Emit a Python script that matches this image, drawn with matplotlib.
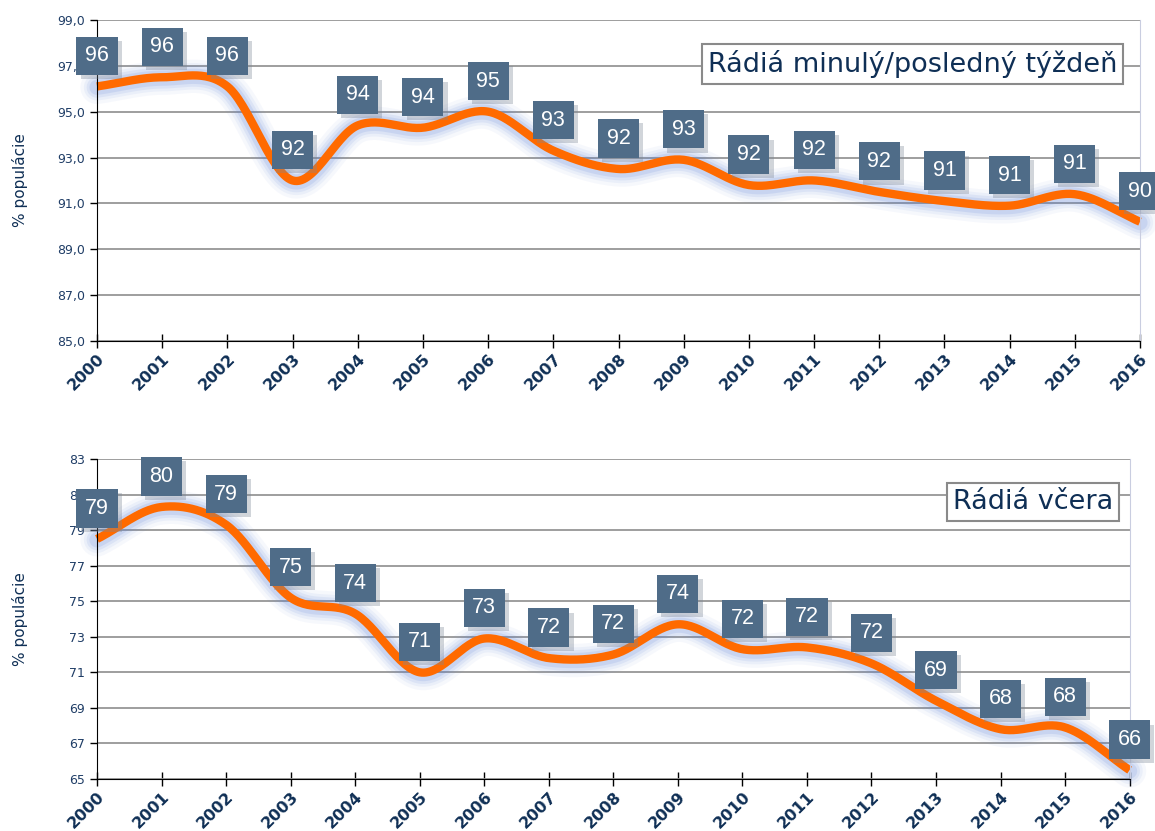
import numpy as np
import matplotlib
matplotlib.use("Agg")
import matplotlib.pyplot as plt
from matplotlib import patheffects

years = list(range(2000, 2017))
week_vals = [96.1, 96.5, 96.1, 92.0, 94.4, 94.3, 95.0, 93.3, 92.5, 92.9,
             91.8, 92.0, 91.5, 91.1, 90.9, 91.4, 90.2]
week_labels = [96, 96, 96, 92, 94, 94, 95, 93, 92, 93, 92, 92, 92, 91, 91, 91, 90]
day_vals = [78.5, 80.3, 79.3, 75.2, 74.3, 71.0, 72.9, 71.8, 72.0, 73.7,
            72.3, 72.4, 71.5, 69.4, 67.8, 67.9, 65.5]
day_labels = [79, 80, 79, 75, 74, 71, 73, 72, 72, 74, 72, 72, 72, 69, 68, 68, 66]

NAVY = "#0f2f55"
ORANGE = "#ff6a00"
BOX = "#4f6c88"


def smooth(x, y, n=30):
    # Catmull-Rom curve through the points (like Excel's smoothed line)
    x = np.asarray(x, float)
    y = np.asarray(y, float)
    px = np.concatenate([[2 * x[0] - x[1]], x, [2 * x[-1] - x[-2]]])
    py = np.concatenate([[2 * y[0] - y[1]], y, [2 * y[-1] - y[-2]]])
    xs, ys = [], []
    t = np.linspace(0, 1, n, endpoint=False)
    for i in range(1, len(px) - 2):
        for p, out in ((px, xs), (py, ys)):
            p0, p1, p2, p3 = p[i - 1], p[i], p[i + 1], p[i + 2]
            out.extend(0.5 * (2 * p1 + (-p0 + p2) * t
                              + (2 * p0 - 5 * p1 + 4 * p2 - p3) * t ** 2
                              + (-p0 + 3 * p1 - 3 * p2 + p3) * t ** 3))
    xs.append(x[-1])
    ys.append(y[-1])
    return np.array(xs), np.array(ys)


def draw(ax, vals, labels, ylim, yticks, yfmt, title, title_pos):
    ax.set_xlim(years[0], years[-1])
    ax.set_ylim(*ylim)
    ax.set_yticks(yticks)
    ax.set_yticklabels([yfmt(v) for v in yticks], color="#1f3d66", fontsize=9)
    ax.set_xticks(years)
    ax.set_xticklabels([str(y) for y in years], rotation=45, ha="right",
                       rotation_mode="anchor", fontsize=11.5, fontweight="bold", color=NAVY)
    ax.tick_params(axis="x", direction="inout", length=10, width=1, pad=2)
    ax.tick_params(axis="y", direction="out", length=5, width=1)
    ax.grid(axis="y", color="#969696", linewidth=1.3)
    ax.set_axisbelow(True)
    ax.spines["top"].set_visible(False)
    ax.spines["right"].set_color("#c9cde0")
    ax.spines["left"].set_color("black")
    ax.spines["bottom"].set_color("black")
    ax.set_ylabel("% populácie", color=NAVY, fontsize=11)
    ax.yaxis.set_label_coords(-69 / (ax.get_position().width * 1155), 0.5)

    sx, sy = smooth(years, vals)
    for lw, a in ((24, 0.05), (19, 0.07), (15, 0.10), (11, 0.14)):
        ax.plot(sx, sy - 0.04 * (ylim[1] - ylim[0]) / 14, color="#5a7fd6", linewidth=lw,
                alpha=a, solid_capstyle="round", clip_on=False)
    ax.plot(sx, sy, color=ORANGE, linewidth=6, solid_capstyle="butt", clip_on=False)

    shadow = [patheffects.withSimplePatchShadow(offset=(3, -3), shadow_rgbFace="#7d8796", alpha=0.35)]
    for x, v, lab in zip(years, vals, labels):
        a = ax.annotate(str(lab), (x, v), xytext=(0, 22), textcoords="offset points",
                        ha="center", va="center", fontsize=15.5, color="white",
                        family="Liberation Sans",
                        bbox=dict(boxstyle="square,pad=0.4", fc=BOX, ec="none"),
                        annotation_clip=False, zorder=5)
        a.get_bbox_patch().set_path_effects(shadow)

    ax.text(title_pos[0], title_pos[1], title, transform=ax.transAxes,
            ha="right", va="center", fontsize=19.5, color=NAVY, zorder=6,
            bbox=dict(boxstyle="square,pad=0.22", fc="white", ec="#8a8a8a", lw=1.5))


fig = plt.figure(figsize=(11.55, 8.31), dpi=100)
ax1 = fig.add_axes([0.084, 0.5897, 0.903, 0.3863])
ax2 = fig.add_axes([0.084, 0.0626, 0.894, 0.3851])

draw(ax1, week_vals, week_labels, (85, 99), np.arange(85, 100, 2),
     lambda v: f"{v:.1f}".replace(".", ","), "Rádiá minulý/posledný týždeň", (0.978, 0.863))
draw(ax2, day_vals, day_labels, (65, 83), np.arange(65, 84, 2),
     lambda v: f"{v:d}", "Rádiá včera", (0.984, 0.866))

fig.savefig("out.png", dpi=100)
